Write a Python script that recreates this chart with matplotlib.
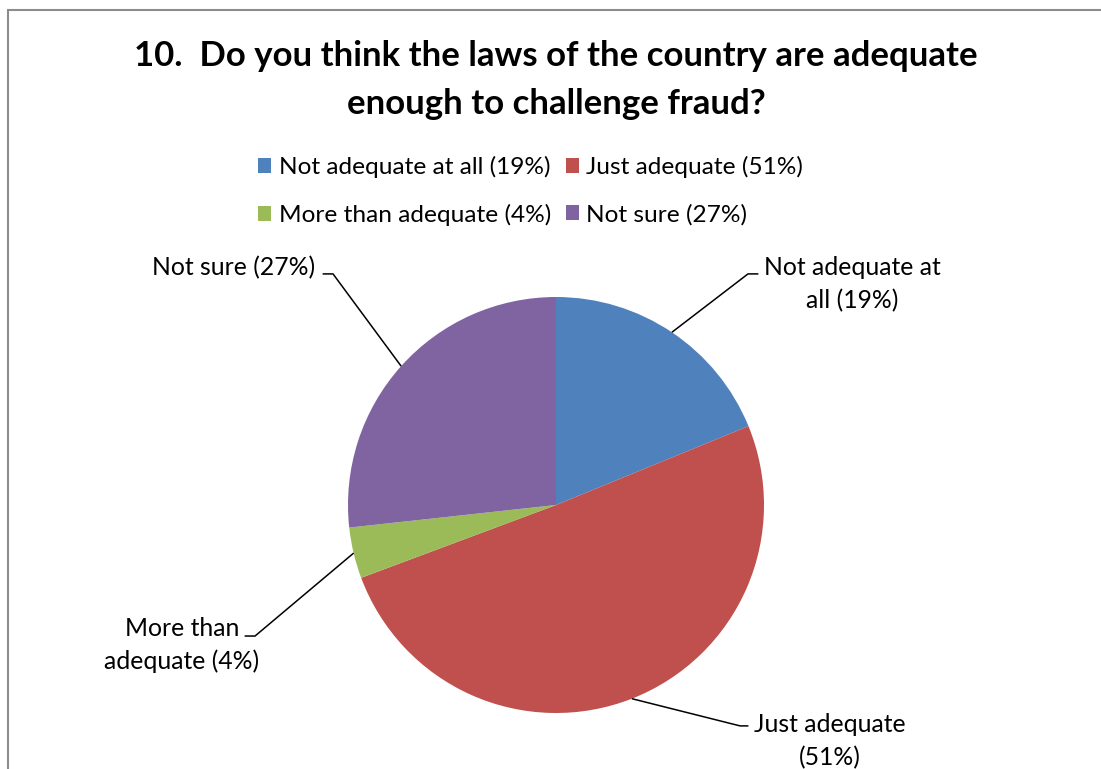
import numpy as np
import matplotlib
matplotlib.use('Agg')
import matplotlib.pyplot as plt
from matplotlib.patches import Patch, Rectangle

plt.rcParams['font.family'] = ['Lato', 'DejaVu Sans']

# ── data ────────────────────────────────────────────────────────────────
categories = ['Not adequate at all', 'Just adequate', 'More than adequate', 'Not sure']
values     = [19, 51, 4, 27]
colors     = ['#4F81BD', '#C0504D', '#9BBB59', '#8064A2']
pie_labels = ['Not adequate at\nall (19%)', 'Just adequate\n(51%)',
              'More than\nadequate (4%)', 'Not sure (27%)']
legend_labels = [f'{c} ({v}%)' for c, v in zip(categories, values)]

title = '10.  Do you think the laws of the country are adequate\nenough to challenge fraud?'

# ── figure ──────────────────────────────────────────────────────────────
W, H = 1101, 769
fig = plt.figure(figsize=(W / 100, H / 100), dpi=100)

# chart-area frame (left + top edges visible, rest cropped)
fig.patches.append(Rectangle((8 / W, -0.2), 1.2, 1.2 - 10 / H,
                             transform=fig.transFigure, fill=False,
                             edgecolor='#8c8c8c', linewidth=1.5))

fig.text(556 / W, 1 - 80 / H, title, ha='center', va='center',
         fontsize=25, fontweight='bold', linespacing=1.62)

# pie
cx, cy, R = 556, 505, 208
ax = fig.add_axes([(cx - R) / W, (H - cy - R) / H, 2 * R / W, 2 * R / H])
wedges, _ = ax.pie(values, colors=colors, startangle=90, counterclock=False,
                   radius=1, wedgeprops=dict(linewidth=0))
ax.set_xlim(-1, 1)
ax.set_ylim(-1, 1)
ax.set_aspect('equal')

# label layout: elbow point, horizontal stub length, text anchor
layout = [
    dict(elbow=(0.923, 1.111), stub=0.05, text=(1.423, 1.063), ha='center'),
    dict(elbow=(0.885, -1.062), stub=0.04, text=(1.317, -1.135), ha='center'),
    dict(elbow=(-1.447, -0.63), stub=-0.05, text=(-1.798, -0.673), ha='center'),
    dict(elbow=(-1.072, 1.111), stub=-0.05, text=(-1.159, 1.139), ha='right'),
]

for w, lab, lay in zip(wedges, pie_labels, layout):
    ang = np.deg2rad((w.theta1 + w.theta2) / 2)
    x0, y0 = np.cos(ang), np.sin(ang)
    ex, ey = lay['elbow']
    ax.plot([x0, ex, ex + lay['stub']], [y0, ey, ey], color='black',
            linewidth=1.1, clip_on=False, solid_capstyle='butt')
    ax.text(lay['text'][0], lay['text'][1], lab, ha=lay['ha'], va='center',
            fontsize=17.8, linespacing=1.5, clip_on=False,
            multialignment='center')

# legend (two rows)
handles = [Patch(facecolor=c, edgecolor='none') for c in colors]
order = [0, 2, 1, 3]
fig.legend([handles[i] for i in order], [legend_labels[i] for i in order],
           loc='upper left', bbox_to_anchor=(258 / W, 1 - 156 / H), ncol=2,
           frameon=False, fontsize=17.6, handlelength=0.55, handleheight=0.55,
           handletextpad=0.3, columnspacing=0.6, labelspacing=1.05,
           borderpad=0, borderaxespad=0)

fig.savefig('out.png', dpi=100)
